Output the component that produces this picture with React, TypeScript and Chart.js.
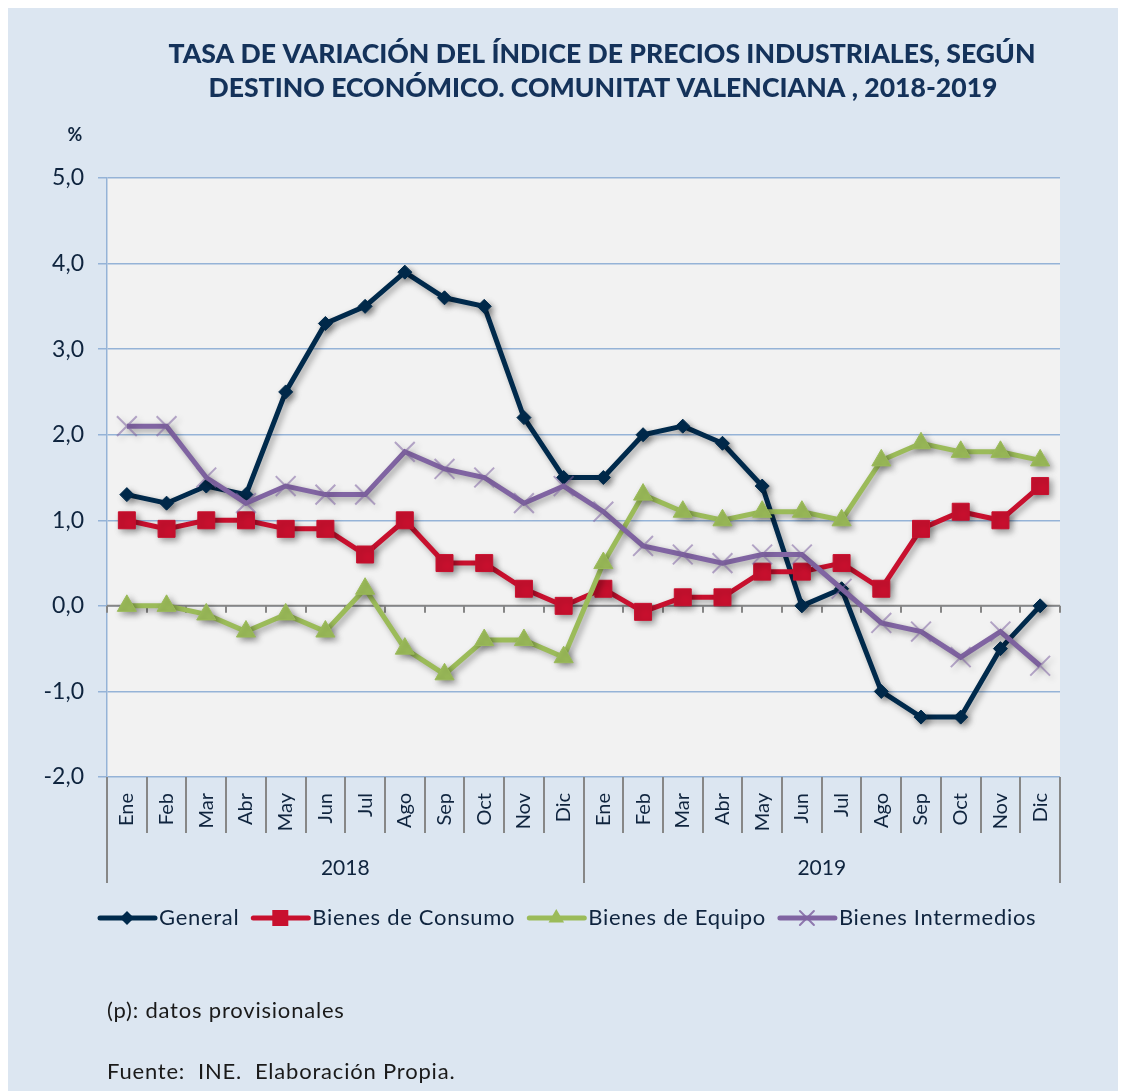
import React, { useEffect, useRef } from 'react';
import { Chart, registerables } from 'chart.js';

Chart.register(...registerables);

const titleLines = [
  'TASA DE VARIACIÓN DEL ÍNDICE DE PRECIOS INDUSTRIALES, SEGÚN',
  'DESTINO ECONÓMICO. COMUNITAT VALENCIANA , 2018-2019',
];
const months = ['Ene', 'Feb', 'Mar', 'Abr', 'May', 'Jun', 'Jul', 'Ago', 'Sep', 'Oct', 'Nov', 'Dic'];
const years = ['2018', '2019'];
const categories = years.flatMap((y) => months.map((m) => `${m} ${y}`));

const seriesNames = ['General', 'Bienes de Consumo', 'Bienes de Equipo', 'Bienes Intermedios'];
const general = [1.3, 1.2, 1.4, 1.3, 2.5, 3.3, 3.5, 3.9, 3.6, 3.5, 2.2, 1.5, 1.5, 2.0, 2.1, 1.9, 1.4, 0.0, 0.2, -1.0, -1.3, -1.3, -0.5, 0.0];
const consumo = [1.0, 0.9, 1.0, 1.0, 0.9, 0.9, 0.6, 1.0, 0.5, 0.5, 0.2, 0.0, 0.2, -0.07, 0.1, 0.1, 0.4, 0.4, 0.5, 0.2, 0.9, 1.1, 1.0, 1.4];
const equipo = [0.0, 0.0, -0.1, -0.3, -0.1, -0.3, 0.2, -0.5, -0.8, -0.4, -0.4, -0.6, 0.5, 1.3, 1.1, 1.0, 1.1, 1.1, 1.0, 1.7, 1.9, 1.8, 1.8, 1.7];
const intermedios = [2.1, 2.1, 1.5, 1.2, 1.4, 1.3, 1.3, 1.8, 1.6, 1.5, 1.2, 1.4, 1.1, 0.7, 0.6, 0.5, 0.6, 0.6, 0.2, -0.2, -0.3, -0.6, -0.3, -0.7];
const yTicks = [-2, -1, 0, 1, 2, 3, 4, 5];
const yUnit = '%';
const footnotes = ['(p): datos provisionales', 'Fuente:  INE.  Elaboración Propia.'];

const CW = 1118;
const CH = 1083;
const FONT = 'Lato, "Noto Sans", sans-serif';
const TEXT = '#0F243E';
const COLORS = ['#002A4C', '#C8102E', '#9BBB59', '#8064A2'];
const STYLES = ['rectRot', 'rect', 'triangle', 'crossRot'];

function drawMarker(ctx: CanvasRenderingContext2D, style: string, x: number, y: number, color: string) {
  ctx.save();
  ctx.fillStyle = color;
  ctx.strokeStyle = color;
  ctx.beginPath();
  if (style === 'rectRot') {
    const r = 7;
    ctx.moveTo(x, y - r);
    ctx.lineTo(x + r, y);
    ctx.lineTo(x, y + r);
    ctx.lineTo(x - r, y);
    ctx.closePath();
    ctx.fill();
  } else if (style === 'rect') {
    ctx.rect(x - 8, y - 8, 16, 16);
    ctx.fill();
  } else if (style === 'triangle') {
    const r = 9;
    ctx.moveTo(x, y - r);
    ctx.lineTo(x + r * 0.866, y + r * 0.5);
    ctx.lineTo(x - r * 0.866, y + r * 0.5);
    ctx.closePath();
    ctx.fill();
  } else {
    const r = 7;
    ctx.lineWidth = 2;
    ctx.moveTo(x - r, y - r);
    ctx.lineTo(x + r, y + r);
    ctx.moveTo(x + r, y - r);
    ctx.lineTo(x - r, y + r);
    ctx.stroke();
  }
  ctx.restore();
}

function fitText(ctx: CanvasRenderingContext2D, text: string, cx: number, y: number, w: number) {
  const m = ctx.measureText(text).width;
  ctx.save();
  ctx.translate(cx, y);
  ctx.scale(w / m, 1);
  ctx.textAlign = 'center';
  ctx.fillText(text, 0, 0);
  ctx.restore();
}

const decorPlugin = {
  id: 'decor',
  beforeDraw(chart: any) {
    const { ctx, chartArea: a } = chart;
    ctx.save();
    ctx.fillStyle = '#F2F2F2';
    ctx.fillRect(a.left, a.top, a.right - a.left, a.bottom - a.top);
    ctx.restore();
  },
  beforeDatasetsDraw(chart: any) {
    const { ctx, chartArea: a } = chart;
    const y0 = chart.scales.y.getPixelForValue(0);
    const n = categories.length;
    const w = (a.right - a.left) / n;
    ctx.save();
    ctx.strokeStyle = '#868686';
    ctx.lineWidth = 2;
    ctx.beginPath();
    ctx.moveTo(a.left, y0);
    ctx.lineTo(a.right, y0);
    for (let i = 0; i <= n; i++) {
      const x = Math.round(a.left + i * w);
      ctx.moveTo(x, y0);
      ctx.lineTo(x, y0 + 7);
    }
    ctx.stroke();
    ctx.restore();
  },
  beforeDatasetDraw(chart: any) {
    const ctx = chart.ctx;
    ctx.save();
    ctx.shadowColor = 'rgba(0,0,0,0.35)';
    ctx.shadowBlur = 6;
    ctx.shadowOffsetX = 3;
    ctx.shadowOffsetY = 3;
  },
  afterDatasetDraw(chart: any) {
    chart.ctx.restore();
  },
  afterDraw(chart: any) {
    const { ctx, chartArea: a } = chart;
    const n = categories.length;
    const w = (a.right - a.left) / n;
    ctx.save();
    // title
    ctx.fillStyle = '#14325A';
    ctx.font = `900 27px ${FONT}`;
    ctx.textBaseline = 'alphabetic';
    fitText(ctx, titleLines[0], 594, 55, 867);
    fitText(ctx, titleLines[1], 595, 89, 789);
    // unit
    ctx.font = `bold 18px ${FONT}`;
    ctx.fillStyle = TEXT;
    ctx.textAlign = 'center';
    ctx.fillText(yUnit, 67, 133);

    // category separators below axis
    ctx.strokeStyle = '#878787';
    ctx.lineWidth = 2;
    ctx.beginPath();
    for (let i = 0; i <= n; i++) {
      const x = Math.round(a.left + i * w);
      ctx.moveTo(x, a.bottom);
      ctx.lineTo(x, a.bottom + (i % months.length === 0 ? 106 : 56));
    }
    ctx.stroke();

    // month labels
    ctx.fillStyle = TEXT;
    ctx.font = `20px ${FONT}`;
    for (let i = 0; i < n; i++) {
      const cx = a.left + (i + 0.5) * w;
      ctx.save();
      ctx.translate(cx, a.bottom + 16);
      ctx.rotate(-Math.PI / 2);
      ctx.textAlign = 'right';
      ctx.textBaseline = 'middle';
      ctx.fillText(months[i % months.length], 0, 0);
      ctx.restore();
    }
    // year labels
    ctx.font = `21px ${FONT}`;
    ctx.textAlign = 'center';
    ctx.textBaseline = 'middle';
    years.forEach((yr, k) => {
      const cx = a.left + (k * months.length + months.length / 2) * w;
      ctx.fillText(yr, cx, a.bottom + 91);
    });

    // legend
    const ly = 910;
    let lx = 92;
    ctx.font = `22px ${FONT}`;
    (ctx as any).letterSpacing = '0.7px';
    ctx.textAlign = 'left';
    ctx.textBaseline = 'middle';
    seriesNames.forEach((name, i) => {
      ctx.strokeStyle = COLORS[i];
      ctx.lineWidth = 5;
      ctx.lineCap = 'round';
      ctx.beginPath();
      ctx.moveTo(lx, ly);
      ctx.lineTo(lx + 55, ly);
      ctx.stroke();
      drawMarker(ctx, STYLES[i], lx + 27, ly, i === 3 ? 'rgba(128,100,162,0.85)' : COLORS[i]);
      ctx.fillStyle = TEXT;
      ctx.fillText(name, lx + 59, ly);
      lx += 59 + ctx.measureText(name).width + 14;
    });

    // footnotes
    ctx.font = `22px ${FONT}`;
    (ctx as any).letterSpacing = '0.8px';
    ctx.fillStyle = '#1A1A1A';
    ctx.textBaseline = 'alphabetic';
    ctx.fillText(footnotes[0], 99, 1010);
    ctx.fillText(footnotes[1], 99, 1071);
    (ctx as any).letterSpacing = '0px';
    ctx.restore();
  },
};

export default function App() {
  const ref = useRef<HTMLCanvasElement>(null);

  useEffect(() => {
    if (!ref.current) return;
    const data = [general, consumo, equipo, intermedios];
    const radii = [7, 12, 11, 14];
    const chart = new Chart(ref.current, {
      type: 'line',
      data: {
        labels: categories,
        datasets: data.map((d, i) => ({
          label: seriesNames[i],
          data: d,
          borderColor: COLORS[i],
          backgroundColor: COLORS[i],
          borderWidth: 5,
          pointStyle: STYLES[i] as any,
          pointRadius: radii[i],
          pointBackgroundColor: i === 3 ? 'rgba(128,100,162,0.55)' : COLORS[i],
          pointBorderColor: i === 3 ? 'rgba(128,100,162,0.55)' : COLORS[i],
          pointBorderWidth: i === 3 ? 2 : 1,
          tension: 0,
          fill: false,
          order: 4 - i,
          clip: 20,
        })),
      },
      options: {
        responsive: false,
        animation: false,
        layout: { padding: { top: 170, right: 66, bottom: 314, left: 0 } },
        plugins: { legend: { display: false }, tooltip: { enabled: false }, title: { display: false } },
        scales: {
          x: { display: false, offset: true },
          y: {
            min: yTicks[0],
            max: yTicks[yTicks.length - 1],
            afterFit: (s: any) => {
              s.width = 99;
            },
            afterBuildTicks: (s: any) => {
              s.ticks = yTicks.map((v) => ({ value: v }));
            },
            ticks: {
              callback: (v: any) => Number(v).toFixed(1).replace('.', ','),
              color: TEXT,
              font: { family: FONT, size: 23 },
              padding: 14,
            },
            grid: { color: '#95B3D7', lineWidth: 1.5, tickLength: 9, drawTicks: true },
            border: { color: '#95B3D7', width: 1.5 },
          },
        },
      },
      plugins: [decorPlugin],
    });
    return () => chart.destroy();
  }, []);

  return (
    <div style={{ width: CW, height: CH, background: '#DCE6F1' }}>
      <canvas ref={ref} width={CW} height={CH} style={{ display: 'block' }} />
    </div>
  );
}
